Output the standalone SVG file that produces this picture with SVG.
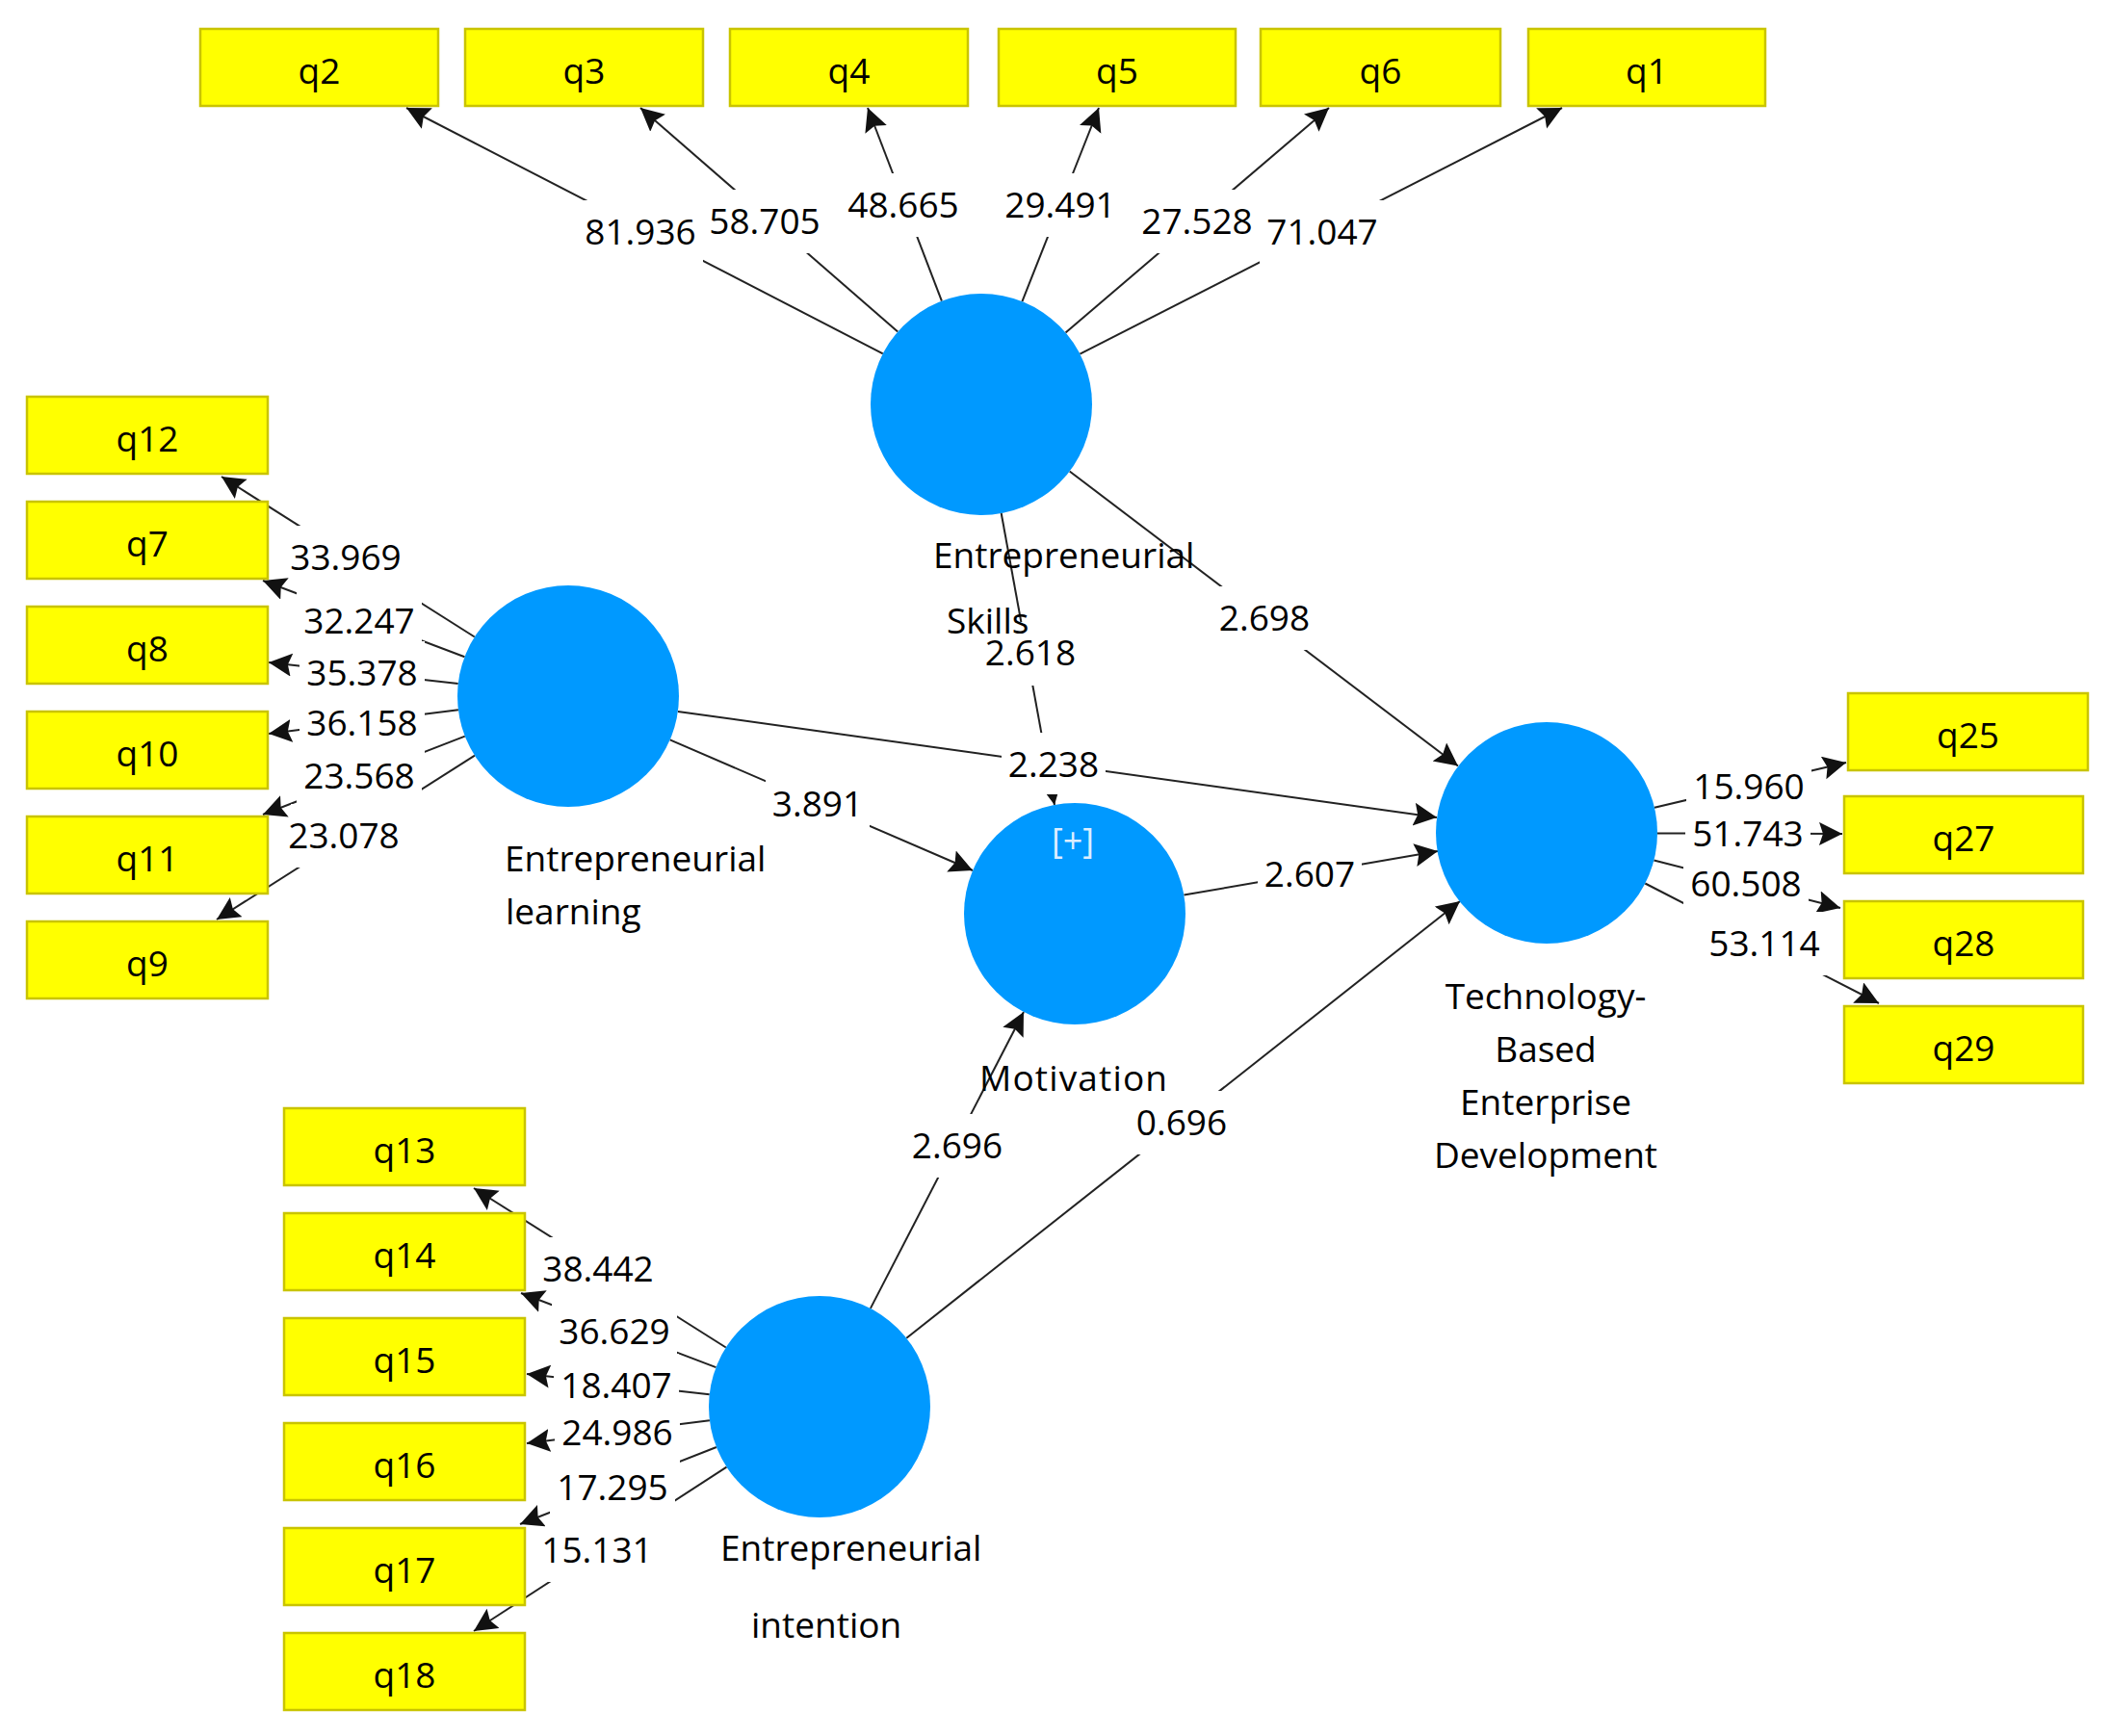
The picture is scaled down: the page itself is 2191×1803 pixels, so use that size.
<svg xmlns="http://www.w3.org/2000/svg" width="2191" height="1803" viewBox="0 0 2191 1803">
<style>
.box{fill:#FFFF00;stroke:#C9C400;stroke-width:2.5}
.lv{fill:#0099FF}
.t{font-family:"Open Sans","Liberation Sans",sans-serif;font-size:37px;fill:#000}
.m{text-anchor:middle}
.c{stroke:#222;stroke-width:2;fill:none;marker-end:url(#ah)}
.bg{fill:#FFFFFF}
.pl{font-family:"Open Sans","Liberation Sans",sans-serif;font-size:36px;fill:#DDEEFF;text-anchor:middle}
</style>
<defs>
<marker id="ah" markerUnits="userSpaceOnUse" markerWidth="26" markerHeight="26" refX="24" refY="12" orient="auto">
<path d="M0,0 L24,12 L0,24 L4,12 z" fill="#111"/>
</marker>
</defs>
<rect width="2191" height="1803" fill="#FFFFFF"/>

<g id="connectors">
<line class="c" x1="916.8" y1="367.3" x2="422" y2="112"/>
<line class="c" x1="932.2" y1="344.5" x2="665" y2="112"/>
<line class="c" x1="977.9" y1="312.6" x2="901" y2="112"/>
<line class="c" x1="1061.4" y1="313.1" x2="1141" y2="112"/>
<line class="c" x1="1106.5" y1="345.4" x2="1380" y2="112"/>
<line class="c" x1="1121.4" y1="367.7" x2="1622" y2="112"/>
<line class="c" x1="492.8" y1="661.5" x2="230" y2="495"/>
<line class="c" x1="482.5" y1="682.3" x2="273" y2="603"/>
<line class="c" x1="475.7" y1="710.1" x2="279" y2="688"/>
<line class="c" x1="475.9" y1="737.3" x2="279" y2="762"/>
<line class="c" x1="482.8" y1="764.6" x2="273" y2="846"/>
<line class="c" x1="493" y1="784.7" x2="225" y2="955"/>
<line class="c" x1="753.8" y1="1399.5" x2="492" y2="1234"/>
<line class="c" x1="743.5" y1="1420.1" x2="541" y2="1343"/>
<line class="c" x1="736.7" y1="1448.2" x2="547" y2="1427"/>
<line class="c" x1="736.9" y1="1475.3" x2="547" y2="1499"/>
<line class="c" x1="743.9" y1="1503" x2="540" y2="1583"/>
<line class="c" x1="754.5" y1="1523.6" x2="492" y2="1694"/>
<line class="c" x1="1718" y1="838.7" x2="1917" y2="792"/>
<line class="c" x1="1721" y1="865.4" x2="1913" y2="866"/>
<line class="c" x1="1717.4" y1="893.5" x2="1911" y2="943"/>
<line class="c" x1="1708.3" y1="917.5" x2="1951" y2="1042"/>
<line class="c" x1="1110.7" y1="489.5" x2="1514" y2="795.5"/>
<line class="c" x1="703.9" y1="738.9" x2="1492" y2="849"/>
<line class="c" x1="695.7" y1="768.4" x2="1010" y2="904"/>
<line class="c" x1="1039.7" y1="533" x2="1095" y2="836"/>
<line class="c" x1="1229.4" y1="929.6" x2="1493" y2="884"/>
<line class="c" x1="903.9" y1="1358.9" x2="1063" y2="1051"/>
<line class="c" x1="941.3" y1="1389.7" x2="1516" y2="936"/>
</g>

<g id="connector-labels">
<g class="bgs">
<rect class="bg" x="600" y="208" width="130" height="66"/>
<rect class="bg" x="729" y="197" width="130" height="66"/>
<rect class="bg" x="873" y="180" width="130" height="66"/>
<rect class="bg" x="1036" y="180" width="130" height="66"/>
<rect class="bg" x="1178" y="197" width="130" height="66"/>
<rect class="bg" x="1308" y="208" width="130" height="66"/>
<rect class="bg" x="302" y="546" width="120" height="66"/>
<rect class="bg" x="308" y="612" width="130" height="66"/>
<rect class="bg" x="311" y="666" width="130" height="66"/>
<rect class="bg" x="311" y="718" width="130" height="66"/>
<rect class="bg" x="308" y="773" width="130" height="66"/>
<rect class="bg" x="302" y="835" width="117" height="66"/>
<rect class="bg" x="570" y="1285" width="114" height="66"/>
<rect class="bg" x="573" y="1350" width="130" height="66"/>
<rect class="bg" x="575" y="1406" width="130" height="66"/>
<rect class="bg" x="576" y="1455" width="130" height="66"/>
<rect class="bg" x="571" y="1512" width="130" height="66"/>
<rect class="bg" x="569" y="1577" width="114" height="66"/>
<rect class="bg" x="1751" y="784" width="130" height="66"/>
<rect class="bg" x="1750" y="833" width="130" height="66"/>
<rect class="bg" x="1748" y="885" width="130" height="66"/>
<rect class="bg" x="1767" y="947" width="130" height="66"/>
<rect class="bg" x="1259" y="609" width="108" height="66"/>
<rect class="bg" x="1016" y="646" width="108" height="66"/>
<rect class="bg" x="1040" y="761" width="108" height="64"/>
<rect class="bg" x="795" y="802" width="108" height="66"/>
<rect class="bg" x="1306" y="875" width="108" height="66"/>
<rect class="bg" x="940" y="1157" width="108" height="66"/>
<rect class="bg" x="1173" y="1133" width="108" height="66"/>
</g>
<g class="t m">
<text x="665" y="254">81.936</text>
<text x="794" y="243">58.705</text>
<text x="938" y="226">48.665</text>
<text x="1101" y="226">29.491</text>
<text x="1243" y="243">27.528</text>
<text x="1373" y="254">71.047</text>
<text x="359" y="592">33.969</text>
<text x="373" y="658">32.247</text>
<text x="376" y="712">35.378</text>
<text x="376" y="764">36.158</text>
<text x="373" y="819">23.568</text>
<text x="357" y="881">23.078</text>
<text x="621" y="1331">38.442</text>
<text x="638" y="1396">36.629</text>
<text x="640" y="1452">18.407</text>
<text x="641" y="1501">24.986</text>
<text x="636" y="1558">17.295</text>
<text x="620" y="1623">15.131</text>
<text x="1816" y="830">15.960</text>
<text x="1815" y="879">51.743</text>
<text x="1813" y="931">60.508</text>
<text x="1832" y="993">53.114</text>
<text x="1313" y="655">2.698</text>
<text x="1070" y="691">2.618</text>
<text x="1094" y="807">2.238</text>
<text x="849" y="848">3.891</text>
<text x="1360" y="921">2.607</text>
<text x="994" y="1203">2.696</text>
<text x="1227" y="1179">0.696</text>
</g>
</g>

<g id="node-q2"><rect class="box" x="208" y="30" width="247" height="80"/><text class="t m" x="331.5" y="87">q2</text></g>
<g id="node-q3"><rect class="box" x="483" y="30" width="247" height="80"/><text class="t m" x="606.5" y="87">q3</text></g>
<g id="node-q4"><rect class="box" x="758" y="30" width="247" height="80"/><text class="t m" x="881.5" y="87">q4</text></g>
<g id="node-q5"><rect class="box" x="1037" y="30" width="246" height="80"/><text class="t m" x="1160" y="87">q5</text></g>
<g id="node-q6"><rect class="box" x="1309" y="30" width="249" height="80"/><text class="t m" x="1433.5" y="87">q6</text></g>
<g id="node-q1"><rect class="box" x="1587" y="30" width="246" height="80"/><text class="t m" x="1710" y="87">q1</text></g>

<g id="node-q12"><rect class="box" x="28" y="412" width="250" height="80"/><text class="t m" x="153" y="469">q12</text></g>
<g id="node-q7"><rect class="box" x="28" y="521" width="250" height="80"/><text class="t m" x="153" y="578">q7</text></g>
<g id="node-q8"><rect class="box" x="28" y="630" width="250" height="80"/><text class="t m" x="153" y="687">q8</text></g>
<g id="node-q10"><rect class="box" x="28" y="739" width="250" height="80"/><text class="t m" x="153" y="796">q10</text></g>
<g id="node-q11"><rect class="box" x="28" y="848" width="250" height="80"/><text class="t m" x="153" y="905">q11</text></g>
<g id="node-q9"><rect class="box" x="28" y="957" width="250" height="80"/><text class="t m" x="153" y="1014">q9</text></g>

<g id="node-q13"><rect class="box" x="295" y="1151" width="250" height="80"/><text class="t m" x="420" y="1208">q13</text></g>
<g id="node-q14"><rect class="box" x="295" y="1260" width="250" height="80"/><text class="t m" x="420" y="1317">q14</text></g>
<g id="node-q15"><rect class="box" x="295" y="1369" width="250" height="80"/><text class="t m" x="420" y="1426">q15</text></g>
<g id="node-q16"><rect class="box" x="295" y="1478" width="250" height="80"/><text class="t m" x="420" y="1535">q16</text></g>
<g id="node-q17"><rect class="box" x="295" y="1587" width="250" height="80"/><text class="t m" x="420" y="1644">q17</text></g>
<g id="node-q18"><rect class="box" x="295" y="1696" width="250" height="80"/><text class="t m" x="420" y="1753">q18</text></g>

<g id="node-q25"><rect class="box" x="1919" y="720" width="249" height="80"/><text class="t m" x="2043.5" y="777">q25</text></g>
<g id="node-q27"><rect class="box" x="1915" y="827" width="248" height="80"/><text class="t m" x="2039" y="884">q27</text></g>
<g id="node-q28"><rect class="box" x="1915" y="936" width="248" height="80"/><text class="t m" x="2039" y="993">q28</text></g>
<g id="node-q29"><rect class="box" x="1915" y="1045" width="248" height="80"/><text class="t m" x="2039" y="1102">q29</text></g>

<g id="node-entrepreneurial-skills">
<circle class="lv" cx="1019" cy="420" r="115"/>
<text class="t" x="969" y="590">Entrepreneurial</text>
<text class="t" x="983" y="658">Skills</text>
</g>
<g id="node-entrepreneurial-learning">
<circle class="lv" cx="590" cy="723" r="115"/>
<text class="t" x="524" y="905">Entrepreneurial</text>
<text class="t" x="525" y="960">learning</text>
</g>
<g id="node-motivation">
<circle class="lv" cx="1116" cy="949" r="115"/>
<text class="pl" x="1114" y="886">[+]</text>
<text class="t" x="1017" y="1133" textLength="195">Motivation</text>
</g>
<g id="node-technology-based-enterprise-development">
<circle class="lv" cx="1606" cy="865" r="115"/>
<text class="t m" x="1605" y="1048">Technology-</text>
<text class="t m" x="1605" y="1103">Based</text>
<text class="t m" x="1605" y="1158">Enterprise</text>
<text class="t m" x="1605" y="1213">Development</text>
</g>
<g id="node-entrepreneurial-intention">
<circle class="lv" cx="851" cy="1461" r="115"/>
<text class="t" x="748" y="1621">Entrepreneurial</text>
<text class="t" x="780" y="1701">intention</text>
</g>
</svg>
